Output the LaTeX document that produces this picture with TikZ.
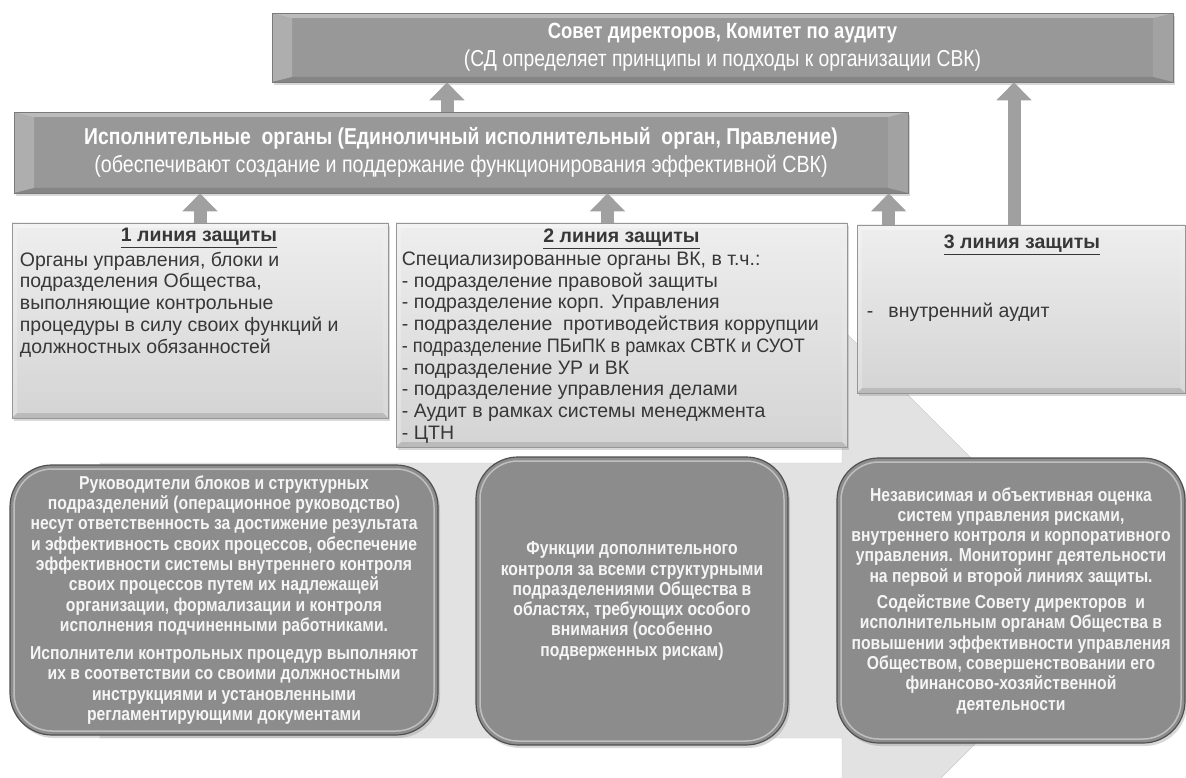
\documentclass[tikz,border=0pt]{standalone}
\usepackage{fontspec}
\setmainfont{Liberation Sans}
\newfontfamily\narrowfont[FakeStretch=0.84]{Liberation Sans}
\usepackage{tikz}
\usetikzlibrary{arrows.meta,positioning,calc,shadows}
\definecolor{boardgray}{RGB}{152,152,152}
\definecolor{linetop}{RGB}{238,238,238}
\definecolor{linebot}{RGB}{212,212,212}
\definecolor{lineedge}{RGB}{150,150,150}
\definecolor{rolegray}{RGB}{140,140,140}
\definecolor{roleedge}{RGB}{80,80,80}
\definecolor{roletext}{RGB}{245,245,245}
\definecolor{bgarrow}{RGB}{226,226,226}
\definecolor{txtgray}{RGB}{55,55,55}
\definecolor{arrgray}{RGB}{160,160,160}

% bevel faces inside a node (side width, top height)
\newcommand{\boxbevel}[2]{%
  \coordinate (bnw) at (path picture bounding box.north west);
  \coordinate (bne) at (path picture bounding box.north east);
  \coordinate (bsw) at (path picture bounding box.south west);
  \coordinate (bse) at (path picture bounding box.south east);
  \fill[white, opacity=.22] (bnw) -- (bsw) -- ($(bsw)+(#1,-#2)$) -- ($(bnw)+(#1,#2)$) -- cycle;
  \fill[white, opacity=.35] (bnw) -- (bne) -- ($(bne)+(-#1,#2)$) -- ($(bnw)+(#1,#2)$) -- cycle;
  \fill[white, opacity=.10] (bne) -- (bse) -- ($(bse)+(-#1,-#2)$) -- ($(bne)+(-#1,#2)$) -- cycle;
  \fill[black, opacity=.12] (bsw) -- (bse) -- ($(bse)+(-#1,-#2)$) -- ($(bsw)+(#1,-#2)$) -- cycle;
}
\newcommand{\fsz}[1]{\fontsize{#1}{28}\selectfont}

\begin{document}
\begin{tikzpicture}[x=1pt, y=-1pt,
    boardbox/.style={fill=boardgray, draw=boardgray!80!black, line width=.6pt,
      drop shadow={shadow xshift=2pt, shadow yshift=-3pt, opacity=.3},
      path picture={\boxbevel{20}{5}},
      text=white, align=center, inner sep=0pt,
      font=\narrowfont\fontsize{22}{28}\selectfont},
    linebox/.style={draw=lineedge, line width=.6pt, top color=linetop, bottom color=linebot,
      drop shadow={shadow xshift=2pt, shadow yshift=-3pt, opacity=.3},
      path picture={\boxbevel{5}{5}}},
    linetitle/.style={text=txtgray, inner sep=0pt, font=\bfseries\fontsize{19.5}{21.7}\selectfont},
    linebody/.style={text=txtgray, inner sep=0pt, align=left, font=\fontsize{19.5}{21.7}\selectfont},
    rolebox/.style={fill=rolegray, draw=roleedge, line width=1.2pt, rounded corners=42pt,
      drop shadow={shadow xshift=2pt, shadow yshift=-3pt, opacity=.3},
      path picture={\draw[white, opacity=.45, line width=1.5pt, rounded corners=38pt]
        ($(path picture bounding box.north west)+(4,4)$) rectangle
        ($(path picture bounding box.south east)+(-4,-4)$);},
      text=roletext, align=center, inner sep=0pt,
      font=\narrowfont\bfseries\fontsize{18.7}{20.3}\selectfont},
    uparrow/.style={draw=arrgray, line width=13pt, -{Triangle[length=18pt, width=34pt]}}
  ]
  \fill[white] (0,0) rectangle (1186,778);
  \useasboundingbox (0,0) rectangle (1186,778);

  % big background arrow
  \begin{scope}
    \clip (0,0) rectangle (1186,778);
    \fill[bgarrow, draw=black!20] (100,463) -- (842,463) -- (842,329) -- (1116,603)
      -- (842,877) -- (842,738) -- (100,738) -- cycle;
  \end{scope}

  % governing bodies
  \node[boardbox, minimum width=901pt, minimum height=69pt] (board) at (722.5,47.5)
    {\textbf{\fsz{22}Совет директоров, Комитет по аудиту}\\
     \fsz{23}(СД определяет принципы и подходы к организации СВК)};
  \node[boardbox, minimum width=894pt, minimum height=81pt] (exec) at (461,152.5)
    {\textbf{\fsz{23}Исполнительные\ \ органы (Единоличный исполнительный\ \ орган, Правление)}\\
     \fsz{23.4}(обеспечивают создание и поддержание функционирования эффективной СВК)};

  % lines of defence
  \node[linebox, minimum width=376pt, minimum height=195pt] (l1) at (200,320.5) {};
  \node[linebox, minimum width=451pt, minimum height=224pt] (l2) at (621.5,335) {};
  \node[linebox, minimum width=328pt, minimum height=168pt] (l3) at (1021,309) {};

  \node[linetitle] (l1title) at ($(l1.north)+(-1,15)$) {\underline{1 линия защиты}};
  \node[linetitle] (l2title) at ($(l2.north)+(0,16)$) {\underline{2 линия защиты}};
  \node[linetitle] (l3title) at ($(l3.north)+(1,20)$) {\underline{3 линия защиты}};

  \node[linebody, anchor=north west] (l1body) at ($(l1.north west)+(8,29)$)
    {Органы управления, блоки и\\
     подразделения Общества,\\
     выполняющие контрольные\\
     процедуры в силу своих функций и\\
     должностных обязанностей};
  \node[linebody, anchor=north west] (l2body) at ($(l2.north west)+(6,29)$)
    {Специализированные органы ВК, в т.ч.:\\
     - подразделение правовой защиты\\
     - подразделение корп. Управления\\
     - подразделение\ \ противодействия коррупции\\
     \scalebox{0.93}[1]{- подразделение ПБиПК в рамках СВТК и СУОТ}\\
     - подразделение УР и ВК\\
     - подразделение управления делами\\
     - Аудит в рамках системы менеджмента\\
     - ЦТН};
  \node[linebody, anchor=base west] (l3body) at ($(l3.north west)+(10,93)$)
    {-\hspace{15pt}внутренний аудит};

  % arrows
  \coordinate (e1) at ($(exec.north)+(-14,0)$);
  \coordinate (t2) at ($(l2.north)+(-14,0)$);
  \coordinate (t3a) at ($(l3.north west)+(32,0)$);
  \coordinate (t3b) at ($(l3.north)+(-7,0)$);
  \draw[uparrow] (e1) -- (e1 |- board.south);
  \draw[uparrow] (l1.north) -- (l1.north |- exec.south);
  \draw[uparrow] (t2) -- (t2 |- exec.south);
  \draw[uparrow] (t3a) -- (t3a |- exec.south);
  \draw[uparrow] (t3b) -- (t3b |- board.south);

  % roles
  \node[rolebox, minimum width=428pt, minimum height=270pt] (roleA) at (224,600)
    {Руководители блоков и структурных\\
     подразделений (операционное руководство)\\
     несут ответственность за достижение результата\\
     и эффективность своих процессов, обеспечение\\
     эффективности системы внутреннего контроля\\
     своих процессов путем их надлежащей\\
     организации, формализации и контроля\\
     исполнения подчиненными работниками.\\[8pt]
     Исполнители контрольных процедур выполняют\\
     их в соответствии со своими должностными\\
     инструкциями и установленными\\
     регламентирующими документами};
  \node[rolebox, minimum width=312pt, minimum height=288pt] (roleB) at (632,601)
    {Функции дополнительного\\
     контроля за всеми структурными\\
     подразделениями Общества в\\
     областях, требующих особого\\
     внимания (особенно\\
     подверженных рискам)};
  \node[rolebox, minimum width=348pt, minimum height=285pt] (roleC) at (1011,600.5)
    {Независимая и объективная оценка\\
     систем управления рисками,\\
     внутреннего контроля и корпоративного\\
     управления. Мониторинг деятельности\\
     на первой и второй линиях защиты.\\[6pt]
     Содействие Совету директоров\ \ и\\
     исполнительным органам Общества в\\
     повышении эффективности управления\\
     Обществом, совершенствовании его\\
     финансово-хозяйственной\\
     деятельности};
\end{tikzpicture}
\end{document}
